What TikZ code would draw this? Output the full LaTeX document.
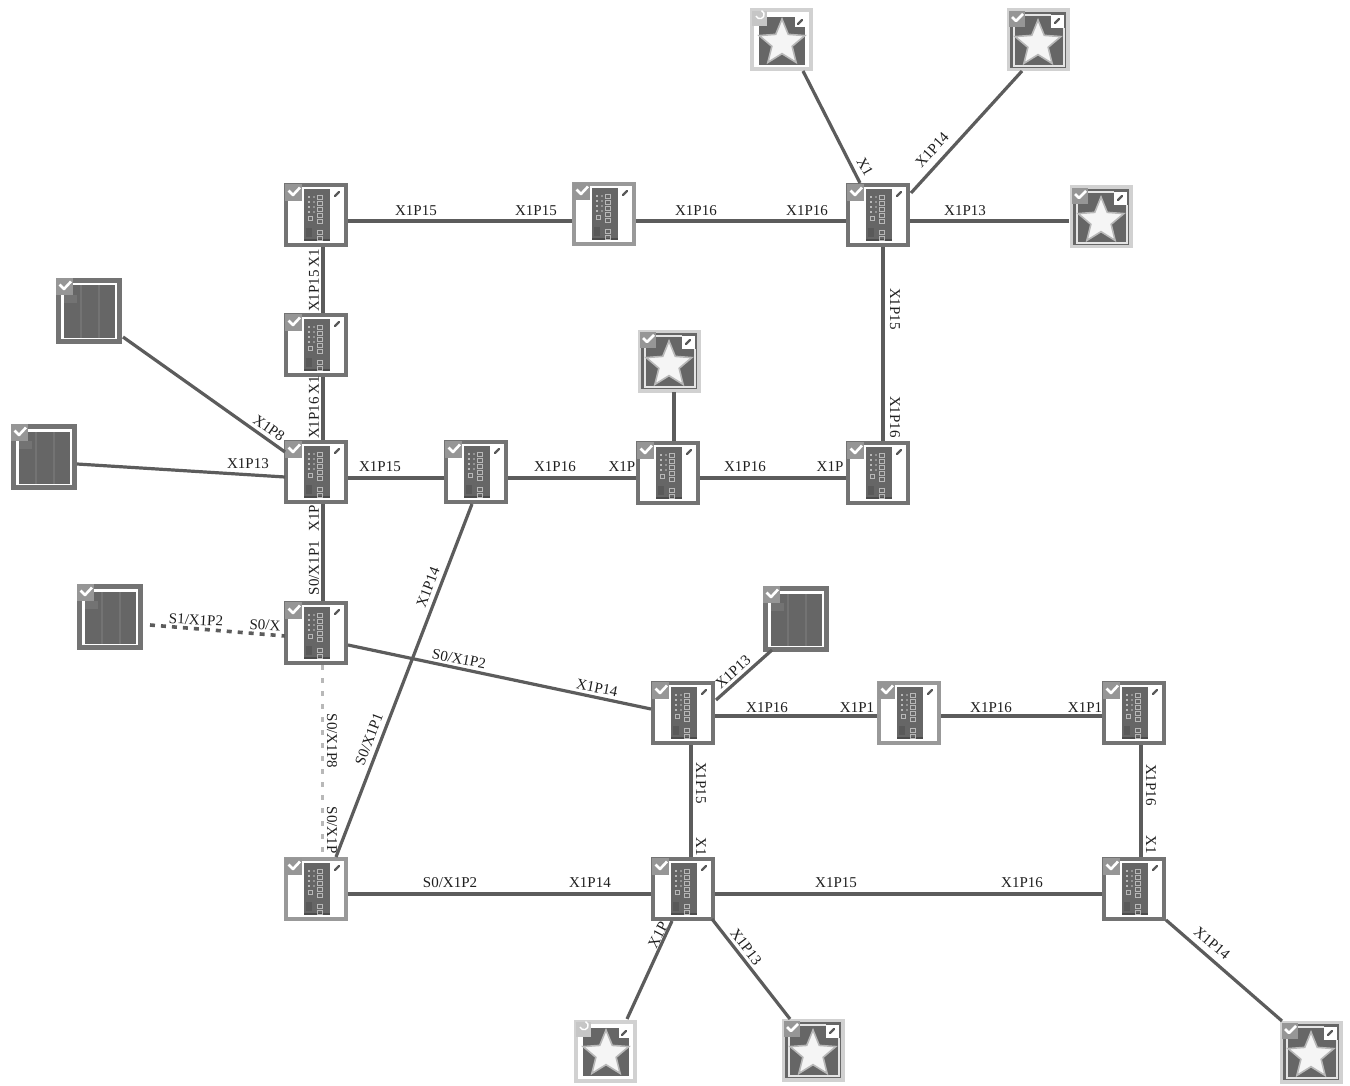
\documentclass[tikz,border=0pt]{standalone}
\usepackage{fontspec}
\setmainfont{Liberation Serif}
\usetikzlibrary{shapes.geometric}
\definecolor{edgec}{gray}{0.36}
\definecolor{boxc}{gray}{0.45}
\definecolor{boxl}{gray}{0.60}
\definecolor{lightb}{gray}{0.82}
\definecolor{fillc}{gray}{0.40}
\definecolor{txtc}{gray}{0.12}
\definecolor{chkc}{gray}{0.59}
\definecolor{portc}{gray}{0.72}
\definecolor{dotc}{gray}{0.72}
\tikzset{
  link/.style={draw=edgec,line width=3.2pt},
  dashlink/.style={draw=edgec,line width=3.6pt,dash pattern=on 5pt off 6pt},
  dotlink/.style={draw=dotc,line width=3pt,dash pattern=on 5pt off 8pt},
  swbox/.style={draw=boxc,line width=3.6pt,fill=white,minimum size=60pt,inner sep=0pt},
  swlight/.style={draw=boxl,line width=3.6pt,fill=white,minimum size=60pt,inner sep=0pt},
  starbox/.style={draw=lightb,line width=4pt,fill=white,minimum size=59pt,inner sep=0pt},
  darkbox/.style={draw=boxc,line width=5pt,fill=white,minimum size=61pt,inner sep=0pt},
  starshape/.style={star,star points=5,star point ratio=2.25,fill=white!96!black,draw=white!72!black,line width=1.6pt,minimum size=48pt,inner sep=0pt},
  lab/.style={text=txtc,font=\fontsize{15}{15}\selectfont,inner sep=0pt},
  tick/.style={white,line width=2.6pt,line join=round},
  chk/.style={fill=chkc},
  pinm/.style={black!65,line width=2.4pt,line cap=round}
}
\newcounter{labc}
\newcommand\lbl[3]{\stepcounter{labc}\node[lab,rotate=#2] (lab\thelabc) at (#1) {#3};}
\newcommand\lnk[5][link]{\draw[#1] ([shift={(#3)}]#2.center) -- ([shift={(#5)}]#4.center);}
\newcommand\swdev[3][swbox]{%
  \node[#1] (#2) at (#3) {};
  \begin{scope}[shift={(#3)}]
    \fill[fillc] (-12,-26) rectangle (14,26);
    \fill[black!70] (-12,24) rectangle (14,26);
    \foreach \yy in {-20,-14,-8,-2,4,15,21} {\draw[portc,line width=.9pt] (1,\yy) rectangle (6,\yy+4);}
    \foreach \yy in {-19,-14,-9,-4} {\fill[portc] (-8,\yy) rectangle (-6,\yy+2);\fill[portc!80!black] (-3,\yy) rectangle (-1,\yy+2);}
    \draw[portc,line width=.8pt] (-8,1) rectangle (-4,5);
    \fill[black!65] (-10,13) rectangle (-4,22);
    \fill[chk] (-31,-31) rectangle (-14,-14);
    \draw[tick] (-27.5,-24.5) -- (-23,-20) -- (-16,-27.5);
    \draw[pinm] (19,-19) -- (23,-23);
  \end{scope}}
% star device with tick and white frame
\newcommand\stardev[2]{%
  \node[starbox] (#1) at (#2) {};
  \begin{scope}[shift={(#2)}]
    \fill[fillc] (-28,-28) rectangle (28,28);
    \draw[white!90!black,line width=1.2pt] (-24,-13) -- (-24,26) -- (26,26) -- (26,-12);
    \draw[white!90!black,line width=1.2pt] (-13,-25) -- (13,-25);
    \fill[white] (13,-25) rectangle (26,-12);
    \node[starshape] (#1s) at (0,4) {};
    \fill[chk] (-29,-29) rectangle (-13,-13);
    \draw[tick] (-26,-23) -- (-22,-19) -- (-15,-26);
    \draw[pinm] (17,-17) -- (21,-21);
  \end{scope}}
% star device with clock badge
\newcommand\clockdev[2]{%
  \node[starbox] (#1) at (#2) {};
  \begin{scope}[shift={(#2)}]
    \fill[fillc] (-22,-23) rectangle (24,25);
    \fill[white] (14,-23) rectangle (24,-13);
    \node[starshape] (#1s) at (1,3) {};
    \fill[gray!45!white] (-29,-29) rectangle (-14,-14);
    \draw[white,line width=1.4pt] (-25,-24) arc (160:-70:4.2);
    \draw[pinm] (17,-16) -- (21,-20);
  \end{scope}}
% dark square device
\newcommand\darkdev[2]{%
  \node[darkbox] (#1) at (#2) {};
  \begin{scope}[shift={(#2)}]
    \fill[fillc] (-25,-25.5) rectangle (25.5,26.5);
    \foreach \xx in {-8,10} {\fill[boxc] (\xx-1,-25.5) rectangle (\xx+1,26.5);}
    \fill[black!55] (-25,-16) rectangle (-12,-8);
    \fill[chk] (-33,-33) rectangle (-16,-16);
    \draw[tick] (-29.5,-26.5) -- (-25,-22) -- (-18,-29.5);
  \end{scope}}
\begin{document}
\begin{tikzpicture}[x=1pt,y=-1pt]
\useasboundingbox (0,0) rectangle (1350,1086);
\fill[white] (0,0) rectangle (1350,1086);
% switches
\swdev{sa}{316,215}
\swdev[swlight]{sb}{604,214}
\swdev{sc}{878,215}
\swdev{sd}{316,345}
\swdev{se}{316,472}
\swdev{sf}{476,472}
\swdev{sg}{668,473}
\swdev{sh}{878,473}
\swdev{si}{316,633}
\swdev{sj}{683,713}
\swdev[swlight]{sk}{909,713}
\swdev{sl}{1134,713}
\swdev[swlight]{sm}{316,889}
\swdev{sn}{683,889}
\swdev{so}{1134,889}
% stars
\clockdev{ta}{781,40}
\stardev{tb}{1038,40}
\stardev{tc}{1101,217}
\stardev{td}{669,361}
\clockdev{te}{605,1051}
\stardev{tf}{813,1050}
\stardev{tg}{1311,1052}
% dark
\darkdev{da}{89,311}
\darkdev{db}{44,457}
\darkdev{dc}{110,617}
\darkdev{dd}{796,619}
% connectors
\lnk{sa}{32,6}{sb}{-32,7}
\lnk{sb}{32,7}{sc}{-32,6}
\lnk{sc}{32,6}{tc}{-32,4}
\lnk{ta}{22,31}{sc}{-18,-32}
\lnk{tb}{-16,31}{sc}{33,-22}
\lnk{sc}{5,32}{sh}{5,-32}
\lnk{sa}{7,32}{sd}{7,-32}
\lnk{sd}{7,32}{se}{7,-32}
\lnk{se}{7,32}{si}{7,-32}
\lnk{da}{34,26}{se}{-31,-20}
\lnk{db}{33,7}{se}{-31,5}
\lnk{se}{32,6}{sf}{-32,6}
\lnk{sf}{32,6}{sg}{-32,5}
\lnk{sg}{32,5}{sh}{-32,5}
\lnk{td}{5,31}{sg}{6,-32}
\lnk{sf}{-4,32}{sm}{20,-32}
\lnk[dashlink]{dc}{40,8}{si}{-31,3}
\lnk{si}{32,12}{sj}{-32,-4}
\lnk[dotlink]{si}{6,32}{sm}{6,-32}
\lnk{sj}{33,-13}{dd}{-24,31}
\lnk{sj}{32,3}{sk}{-32,3}
\lnk{sk}{32,3}{sl}{-32,3}
\lnk{sj}{8,32}{sn}{8,-32}
\lnk{sl}{7,32}{so}{7,-32}
\lnk{sm}{32,5}{sn}{-32,5}
\lnk{sn}{32,5}{so}{-32,5}
\lnk{sn}{-11,32}{te}{22,-32}
\lnk{sn}{29,30}{tf}{-23,-31}
\lnk{so}{32,31}{tg}{-29,-31}
% labels
\lbl{416,211}{0}{X1P15}
\lbl{536,211}{0}{X1P15}
\lbl{696,211}{0}{X1P16}
\lbl{807,211}{0}{X1P16}
\lbl{965,211}{0}{X1P13}
\lbl{865,167}{-60}{X1}
\lbl{932,150}{48}{X1P14}
\lbl{895,309}{-90}{X1P15}
\lbl{895,417}{-90}{X1P16}
\lbl{314,291}{90}{X1P15}
\lbl{314,258}{90}{X1}
\lbl{314,418}{90}{X1P16}
\lbl{314,385}{90}{X1}
\lbl{314,518}{90}{X1P}
\lbl{314,568}{90}{S0/X1P1}
\lbl{269,428}{-35}{X1P8}
\lbl{248,464}{0}{X1P13}
\lbl{380,467}{0}{X1P15}
\lbl{555,467}{0}{X1P16}
\lbl{622,467}{0}{X1P}
\lbl{745,467}{0}{X1P16}
\lbl{830,467}{0}{X1P}
\lbl{428,587}{69}{X1P14}
\lbl{369,739}{69}{S0/X1P1}
\lbl{196,620}{-3}{S1/X1P2}
\lbl{265,625}{-3}{S0/X}
\lbl{459,659}{-11}{S0/X1P2}
\lbl{597,688}{-11}{X1P14}
\lbl{332,741}{-90}{S0/X1P8}
\lbl{332,830}{-90}{S0/X1P}
\lbl{733,672}{42}{X1P13}
\lbl{767,708}{0}{X1P16}
\lbl{857,708}{0}{X1P1}
\lbl{991,708}{0}{X1P16}
\lbl{1085,708}{0}{X1P1}
\lbl{701,783}{-90}{X1P15}
\lbl{701,847}{-90}{X1}
\lbl{1151,785}{-90}{X1P16}
\lbl{1151,845}{-90}{X1}
\lbl{450,883}{0}{S0/X1P2}
\lbl{590,883}{0}{X1P14}
\lbl{836,883}{0}{X1P15}
\lbl{1022,883}{0}{X1P16}
\lbl{658,935}{62}{X1P}
\lbl{746,947}{-53}{X1P13}
\lbl{1212,943}{-40}{X1P14}
\end{tikzpicture}
\end{document}
